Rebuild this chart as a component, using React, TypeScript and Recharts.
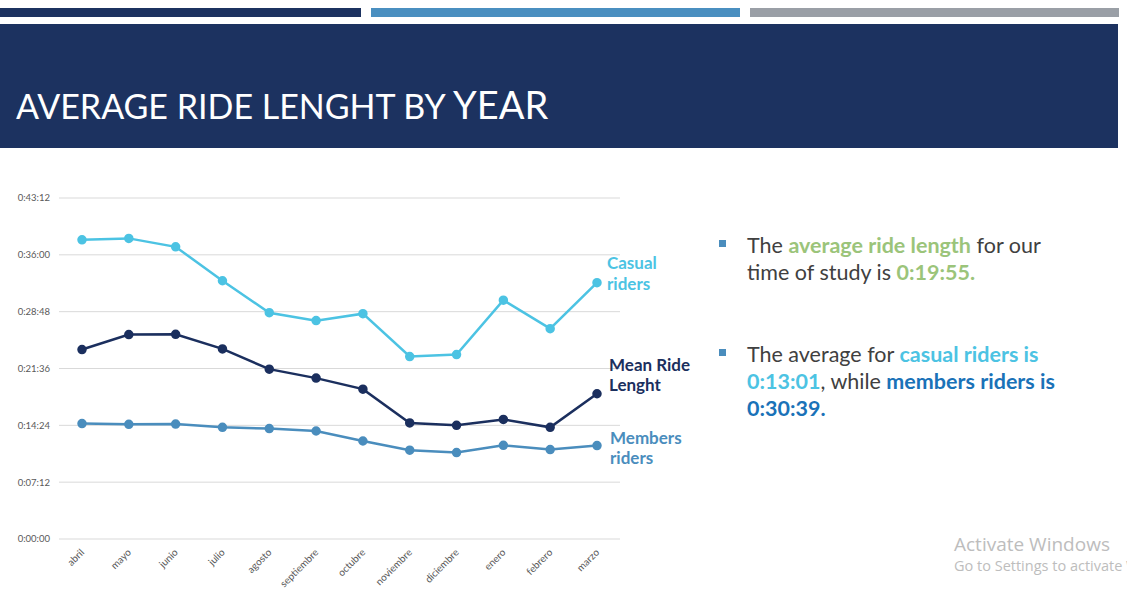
import { LineChart, Line, XAxis, YAxis, CartesianGrid, LabelList } from 'recharts'

// ride lengths in seconds
const months = ['abril', 'mayo', 'junio', 'julio', 'agosto', 'septiembre', 'octubre', 'noviembre', 'diciembre', 'enero', 'febrero', 'marzo']
const casual = [2274, 2285, 2221, 1963, 1720, 1660, 1713, 1387, 1402, 1815, 1599, 1948]
const mean = [1440, 1554, 1556, 1445, 1291, 1223, 1139, 882, 864, 909, 849, 1104]
const members = [877, 872, 874, 849, 839, 821, 745, 675, 657, 712, 680, 710]
const yTicks = [0, 432, 864, 1296, 1728, 2160, 2592]

const data = months.map((m, i) => ({ month: m, casual: casual[i], mean: mean[i], members: members[i] }))

const C_CASUAL = '#4cc3e3'
const C_MEAN = '#1b2f5e'
const C_MEMBERS = '#4a8dbd'

function fmt(s: number) {
  const h = Math.floor(s / 3600)
  const m = Math.floor((s % 3600) / 60)
  const sec = s % 60
  return `${h}:${String(m).padStart(2, '0')}:${String(sec).padStart(2, '0')}`
}

function endLabel(lines: string[], color: string, dy: number[], dx: number) {
  return (props: any) => {
    if (props.index !== months.length - 1) return null
    return (
      <text fill={color} fontFamily="Lato" fontWeight={700} fontSize={17}>
        {lines.map((t, i) => (
          <tspan key={i} x={props.x + dx} y={props.y + dy[i]}>{t}</tspan>
        ))}
      </text>
    )
  }
}

function XTick({ x, y, payload }: any) {
  return (
    <text x={x + 3} y={y + 6} transform={`rotate(-45 ${x + 3} ${y + 6})`} textAnchor="end" fontSize={10} fill="#595959" fontFamily="Lato">
      {payload.value}
    </text>
  )
}

export default function App() {
  return (
    <div style={{ position: 'absolute', left: 0, top: 0, width: 1127, height: 595, background: '#fff', overflow: 'hidden', fontFamily: 'Lato' }}>
      <div style={{ position: 'absolute', left: 0, top: 8, width: 361, height: 9, background: '#1c3260' }} />
      <div style={{ position: 'absolute', left: 371, top: 8, width: 369, height: 9, background: '#4a8fc0' }} />
      <div style={{ position: 'absolute', left: 750, top: 8, width: 369, height: 9, background: '#9a9fa6' }} />
      <div style={{ position: 'absolute', left: 0, top: 24, width: 1118, height: 124, background: '#1c3260' }} />
      <div style={{ position: 'absolute', left: 16, top: 81, color: '#fff', fontSize: 34, whiteSpace: 'nowrap' }}>
        AVERAGE RIDE LENGHT BY <span style={{ fontSize: 38 }}>YEAR</span>
      </div>

      <div style={{ position: 'absolute', left: 0, top: 180 }}>
        <LineChart width={720} height={410} data={data} margin={{ top: 18, right: 100, bottom: 0, left: 0 }}>
          <CartesianGrid vertical={false} stroke="#d9d9d9" />
          <XAxis dataKey="month" axisLine={false} tickLine={false} height={51} tick={<XTick />} interval={0} padding={{ left: 23, right: 23 }} />
          <YAxis
            width={59}
            domain={[0, 2592]}
            ticks={yTicks}
            tickFormatter={fmt}
            axisLine={false}
            tickLine={false}
            tickSize={0}
            tickMargin={9}
            tick={{ fontSize: 9.5, fill: '#595959', fontFamily: 'Lato' }}
          />
          <Line dataKey="casual" stroke={C_CASUAL} strokeWidth={2.5} dot={{ r: 3.5, fill: C_CASUAL, stroke: C_CASUAL }} isAnimationActive={false}>
            <LabelList dataKey="casual" content={endLabel(['Casual', 'riders'], C_CASUAL, [-14, 7], 10)} />
          </Line>
          <Line dataKey="mean" stroke={C_MEAN} strokeWidth={2.5} dot={{ r: 3.5, fill: C_MEAN, stroke: C_MEAN }} isAnimationActive={false}>
            <LabelList dataKey="mean" content={endLabel(['Mean Ride', 'Lenght'], C_MEAN, [-23, -3], 12)} />
          </Line>
          <Line dataKey="members" stroke={C_MEMBERS} strokeWidth={2.5} dot={{ r: 3.5, fill: C_MEMBERS, stroke: C_MEMBERS }} isAnimationActive={false}>
            <LabelList dataKey="members" content={endLabel(['Members', 'riders'], C_MEMBERS, [-2, 18], 13)} />
          </Line>
        </LineChart>
      </div>

      <div style={{ position: 'absolute', left: 719, top: 240, width: 7, height: 7, background: '#4a8dbd' }} />
      <div style={{ position: 'absolute', left: 747, top: 232, width: 335, fontSize: 21.5, lineHeight: '27px', color: '#404040' }}>
        The <b style={{ color: '#9bc47a' }}>average ride length</b> for our time of study is <b style={{ color: '#9bc47a' }}>0:19:55.</b>
      </div>
      <div style={{ position: 'absolute', left: 719, top: 349, width: 7, height: 7, background: '#4a8dbd' }} />
      <div style={{ position: 'absolute', left: 747, top: 341, width: 340, fontSize: 21.5, lineHeight: '27px', color: '#404040' }}>
        The average for <b style={{ color: '#4cc3e3' }}>casual riders is 0:13:01</b>, while <b style={{ color: '#1a72b8' }}>members riders is 0:30:39.</b>
      </div>

      <div style={{ position: 'absolute', left: 954, top: 531, fontFamily: 'Open Sans', fontSize: 19, color: '#bdbdbd', whiteSpace: 'nowrap' }}>Activate Windows</div>
      <div style={{ position: 'absolute', left: 954, top: 556, fontFamily: 'Open Sans', fontSize: 14.5, color: '#bdbdbd', whiteSpace: 'nowrap' }}>Go to Settings to activate Windows.</div>
    </div>
  )
}
